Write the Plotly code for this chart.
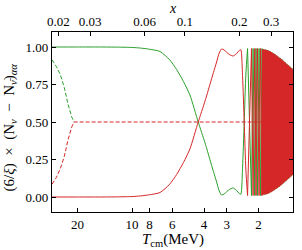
import numpy as np
import plotly.graph_objects as go

ME = 0.511  # electron mass (MeV), x = m_e / T

# ---- data ----
# smooth part of the solid curves
T_smooth = [27.7, 20, 15, 12, 10, 9.0, 8.0, 7.0, 6.2, 5.67, 5.2, 4.79, 4.31, 3.95, 3.714,
            3.55, 3.41, 3.30, 3.20, 3.10, 3.0, 2.9, 2.764, 2.65, 2.55, 2.506, 2.45, 2.40, 2.35, 2.30]
green_smooth = [1.0, 1.0, 1.0, 0.999, 0.997, 0.993, 0.985, 0.97, 0.915, 0.85, 0.77, 0.68, 0.50, 0.36, 0.25,
                0.17, 0.10, 0.04, 0.013, 0.02, 0.035, 0.05, 0.06, 0.045, 0.022, 0.018, 0.20, 0.50, 0.82, 0.99]
red_smooth = [0.0, 0.0, 0.0, 0.001, 0.003, 0.007, 0.015, 0.03, 0.085, 0.15, 0.23, 0.32, 0.50, 0.64, 0.75,
              0.83, 0.90, 0.96, 0.987, 0.98, 0.965, 0.95, 0.94, 0.955, 0.978, 0.982, 0.80, 0.50, 0.18, 0.01]

# first, still resolved oscillations (extrema)
T_osc1 = [2.30, 2.188, 2.144, 2.098, 2.064, 2.028, 1.987, 1.952, 1.913]
green_osc1 = [0.99, 0.01, 0.99, 0.01, 0.99, 0.01, 0.99, 0.01, 0.99]
red_osc1 = [0.01, 0.99, 0.01, 0.99, 0.01, 0.99, 0.01, 0.99, 0.01]

# dense oscillations (extrema)
T_osc2 = [1.913, 1.896, 1.876, 1.856, 1.836, 1.816, 1.797, 1.778, 1.759, 1.740, 1.721,
          1.703, 1.685, 1.667, 1.649, 1.631, 1.614, 1.597, 1.580, 1.563, 1.546,
          1.530, 1.513, 1.497, 1.481, 1.465, 1.450, 1.434, 1.419, 1.404, 1.389,
          1.374, 1.359, 1.345, 1.330, 1.316, 1.302, 1.288]
green_osc2 = [0.99, 0.015, 0.985, 0.016, 0.983, 0.018, 0.980, 0.022, 0.976, 0.027, 0.970,
              0.033, 0.964, 0.040, 0.957, 0.047, 0.949, 0.055, 0.941, 0.063, 0.933,
              0.071, 0.925, 0.080, 0.915, 0.090, 0.905, 0.100, 0.895, 0.110, 0.885,
              0.120, 0.875, 0.130, 0.865, 0.140, 0.855, 0.150]
red_osc2 = [0.01, 0.985, 0.015, 0.984, 0.017, 0.982, 0.020, 0.978, 0.024, 0.973, 0.030,
            0.967, 0.036, 0.960, 0.043, 0.953, 0.051, 0.945, 0.059, 0.937, 0.067,
            0.929, 0.075, 0.920, 0.085, 0.910, 0.095, 0.900, 0.105, 0.890, 0.115,
            0.880, 0.125, 0.870, 0.135, 0.860, 0.145, 0.850]

# dashed curves
T_dash_green = [27.7, 26.2, 24.9, 23.7, 22.6, 21.5, 20.9]
green_dash = [0.915, 0.87, 0.815, 0.73, 0.62, 0.53, 0.50]
T_dash_red = [27.7, 26.2, 24.9, 23.7, 22.6, 21.5, 20.9, 1.29]
red_dash = [0.085, 0.13, 0.19, 0.27, 0.38, 0.47, 0.50, 0.50]

# axes
T_range = [27.7, 1.29]
T_ticks = [20, 10, 8, 6, 4, 3, 2]
x_ticks = [0.02, 0.03, 0.06, 0.1, 0.2, 0.3]
x_tick_text = ["0.02", "0.03", "0.06", "0.1", "0.2", "0.3"]
y_ticks = [0.0, 0.25, 0.5, 0.75, 1.0]

GREEN = "#2ca02c"
RED = "#d62728"
LW = 1.0
FONT = "Liberation Serif"

fig = go.Figure()
fig.add_trace(go.Scatter(x=T_smooth, y=green_smooth, mode="lines",
                         line=dict(color=GREEN, width=LW, shape="spline", smoothing=0.6)))
fig.add_trace(go.Scatter(x=T_osc1, y=green_osc1, mode="lines", line=dict(color=GREEN, width=LW)))
fig.add_trace(go.Scatter(x=T_osc2, y=green_osc2, mode="lines", line=dict(color=GREEN, width=LW)))
fig.add_trace(go.Scatter(x=T_dash_green, y=green_dash, mode="lines",
                         line=dict(color=GREEN, width=LW, dash="4px,2px")))
fig.add_trace(go.Scatter(x=T_smooth, y=red_smooth, mode="lines",
                         line=dict(color=RED, width=LW, shape="spline", smoothing=0.6)))
fig.add_trace(go.Scatter(x=T_osc1, y=red_osc1, mode="lines", line=dict(color=RED, width=LW)))
fig.add_trace(go.Scatter(x=T_osc2, y=red_osc2, mode="lines", line=dict(color=RED, width=1.8)))
fig.add_trace(go.Scatter(x=T_dash_red, y=red_dash, mode="lines",
                         line=dict(color=RED, width=LW, dash="4px,2px")))
# carrier trace for the top x axis
fig.add_trace(go.Scatter(x=[ME / t for t in T_range], y=[0.5, 0.5], xaxis="x2", yaxis="y",
                         mode="lines", line=dict(width=0, color="rgba(0,0,0,0)"), hoverinfo="skip"))

axis_common = dict(ticks="inside", ticklen=4, tickwidth=1, tickcolor="black",
                   showline=True, linecolor="black", linewidth=1.2,
                   showgrid=False, zeroline=False, automargin=False,
                   tickfont=dict(family=FONT, size=13, color="black"))

fig.update_layout(
    width=302, height=250,
    margin=dict(l=52, r=9, t=32, b=38),
    paper_bgcolor="white", plot_bgcolor="white",
    showlegend=False,
    font=dict(family=FONT, size=13, color="black"),
    xaxis=dict(type="log", range=[np.log10(T_range[0]), np.log10(T_range[1])],
               tickvals=T_ticks, ticktext=[str(t) for t in T_ticks],
               **axis_common),
    xaxis2=dict(type="log", overlaying="x", side="top",
                range=[np.log10(ME / T_range[0]), np.log10(ME / T_range[1])],
                tickvals=x_ticks, ticktext=x_tick_text,
                **axis_common),
    yaxis=dict(range=[-0.1, 1.1], tickvals=y_ticks, tickformat=".2f", mirror="ticks",
               **axis_common),
    annotations=[
        dict(text="<i>T</i><sub>cm</sub>(MeV)", xref="paper", yref="paper", x=0.5, y=0,
             xanchor="center", yanchor="middle", yshift=-28, showarrow=False,
             font=dict(family=FONT, size=15)),
        dict(text="<i>x</i>", xref="paper", yref="paper", x=0.5, y=1,
             xanchor="center", yanchor="middle", yshift=24, showarrow=False,
             font=dict(family=FONT, size=14)),
        dict(text="(6/<i>ξ</i>)  ×  (N<sub><i>ν</i></sub>  −  N<sub><i>ν̄</i></sub>)<sub><i>αα</i></sub>",
             xref="paper", yref="paper", x=0, y=0.47, xanchor="center", yanchor="middle",
             xshift=-42, textangle=-90, showarrow=False, font=dict(family=FONT, size=15)),
    ],
)

fig.write_html("out.html", config={"responsive": False, "displayModeBar": False},
               post_script="document.body.style.margin='0px';document.body.style.overflow='hidden';")
